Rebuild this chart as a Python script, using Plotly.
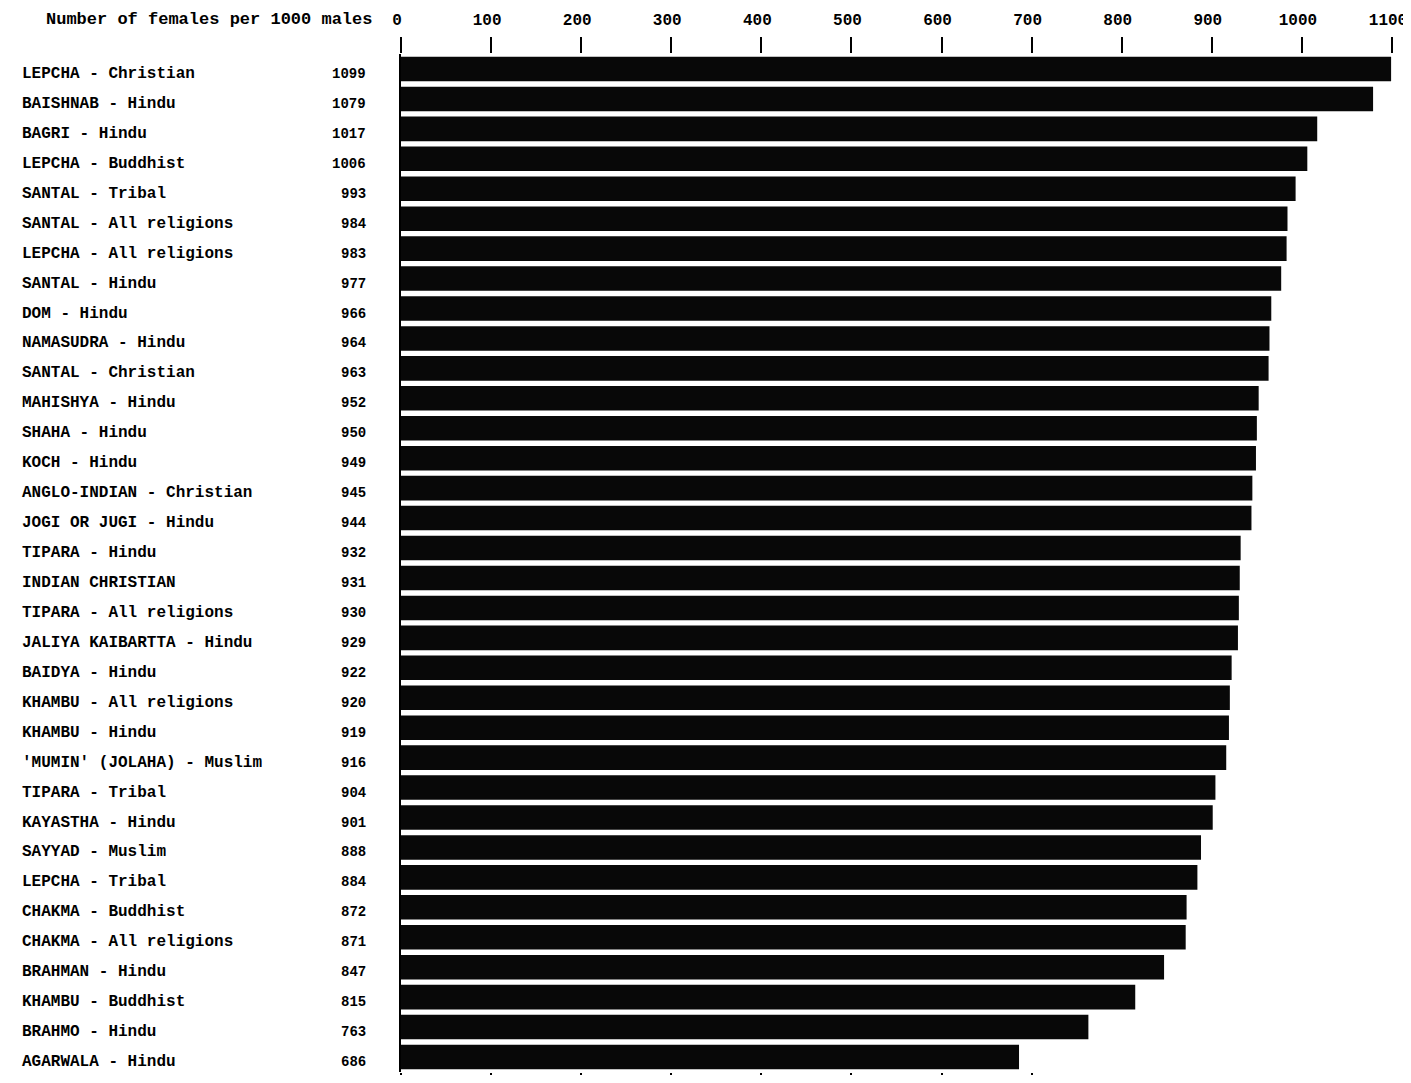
import plotly.graph_objects as go

groups = [
    "LEPCHA - Christian", "BAISHNAB - Hindu", "BAGRI - Hindu", "LEPCHA - Buddhist",
    "SANTAL - Tribal", "SANTAL - All religions", "LEPCHA - All religions", "SANTAL - Hindu",
    "DOM - Hindu", "NAMASUDRA - Hindu", "SANTAL - Christian", "MAHISHYA - Hindu",
    "SHAHA - Hindu", "KOCH - Hindu", "ANGLO-INDIAN - Christian", "JOGI OR JUGI - Hindu",
    "TIPARA - Hindu", "INDIAN CHRISTIAN", "TIPARA - All religions", "JALIYA KAIBARTTA - Hindu",
    "BAIDYA - Hindu", "KHAMBU - All religions", "KHAMBU - Hindu", "'MUMIN' (JOLAHA) - Muslim",
    "TIPARA - Tribal", "KAYASTHA - Hindu", "SAYYAD - Muslim", "LEPCHA - Tribal",
    "CHAKMA - Buddhist", "CHAKMA - All religions", "BRAHMAN - Hindu", "KHAMBU - Buddhist",
    "BRAHMO - Hindu", "AGARWALA - Hindu",
]
females_per_1000_males = [
    1099, 1079, 1017, 1006, 993, 984, 983, 977, 966, 964, 963, 952, 950, 949, 945, 944,
    932, 931, 930, 929, 922, 920, 919, 916, 904, 901, 888, 884, 872, 871, 847, 815, 763, 686,
]
top_ticks = [0, 100, 200, 300, 400, 500, 600, 700, 800, 900, 1000, 1100]
bottom_ticks = [0, 100, 200, 300, 400, 500, 600, 700]
header = "Number of females per 1000 males"

FONT = "Liberation Mono"
n = len(groups)

fig = go.Figure()
fig.add_trace(go.Bar(
    x=females_per_1000_males, y=groups, orientation="h",
    marker=dict(color="#080808", line=dict(width=0)),
    hoverinfo="x+y", showlegend=False,
))
# invisible trace carrying the bottom tick axis
fig.add_trace(go.Scatter(x=[0], y=[groups[0]], xaxis="x2", mode="markers",
                         marker=dict(opacity=0, size=1), showlegend=False, hoverinfo="skip"))

for g, v in zip(groups, females_per_1000_males):
    fig.add_annotation(x=-0.3845, xref="paper", y=g, yref="y", text=g, showarrow=False,
                       xanchor="left", yshift=-5,
                       font=dict(family=FONT, size=16, color="black", weight="bold"))
    fig.add_annotation(x=-0.0333, xref="paper", y=g, yref="y", text=str(v), showarrow=False,
                       xanchor="right", yshift=-5,
                       font=dict(family=FONT, size=14, color="black", weight="bold"))

fig.add_annotation(x=-0.0272, xref="paper", y=1.0334, yref="paper", text=header, showarrow=False,
                   xanchor="right", yanchor="middle",
                   font=dict(family=FONT, size=17, color="black", weight="bold"))

fig.update_layout(
    width=1403, height=1067,
    margin=dict(l=393, r=19, t=46, b=3, autoexpand=False),
    paper_bgcolor="white", plot_bgcolor="white",
    bargap=0.18,
    xaxis=dict(side="top", range=[0, 1100], tickvals=top_ticks, ticktext=[str(t) for t in top_ticks],
               ticks="outside", ticklen=16, tickwidth=2, tickcolor="black", automargin=False,
               showgrid=False, zeroline=False, showline=False, ticklabelstandoff=6,
               ticklabelshift=-4, ticklabeloverflow="allow",
               tickfont=dict(family=FONT, size=16, color="black", weight="bold")),
    xaxis2=dict(overlaying="x", side="bottom", anchor="y", range=[0, 1100], tickvals=bottom_ticks,
                ticks="outside", ticklen=3, tickwidth=2, tickcolor="black", automargin=False,
                showticklabels=False, showgrid=False, zeroline=False, showline=False),
    yaxis=dict(autorange=False, range=[n - 0.5, -0.5], showticklabels=False, ticks="",
               automargin=False, showgrid=False, showline=True, linewidth=2,
               linecolor="black", zeroline=False),
)

fig.write_html("out.html")
